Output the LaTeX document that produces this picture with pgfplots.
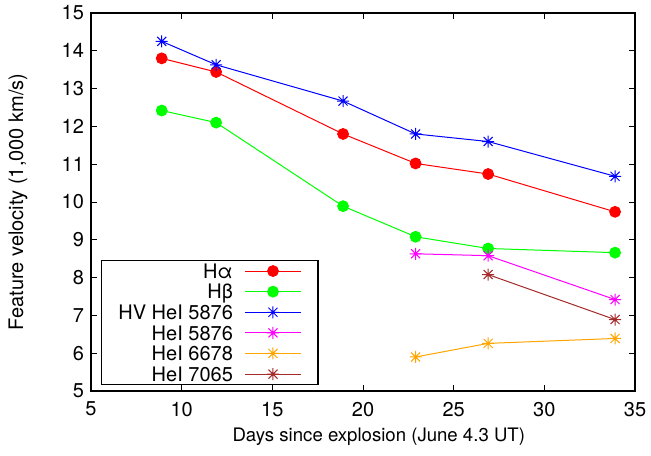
\documentclass[border=0pt]{standalone}
\usepackage{fontspec}
\setmainfont{TeX Gyre Heros}
\usepackage{pgfplots}
\pgfplotsset{compat=1.18}
\definecolor{gporange}{RGB}{255,165,0}
\definecolor{gpbrown}{RGB}{165,42,42}
\definecolor{gpgreen}{RGB}{0,255,0}
\definecolor{gpmagenta}{RGB}{255,0,255}
% gnuplot style point type 3: + and x on top of each other
\pgfdeclareplotmark{gpstar}{%
  \pgfpathmoveto{\pgfqpoint{-\pgfplotmarksize}{0pt}}%
  \pgfpathlineto{\pgfqpoint{\pgfplotmarksize}{0pt}}%
  \pgfpathmoveto{\pgfqpoint{0pt}{-\pgfplotmarksize}}%
  \pgfpathlineto{\pgfqpoint{0pt}{\pgfplotmarksize}}%
  \pgfpathmoveto{\pgfqpoint{-0.75\pgfplotmarksize}{-0.75\pgfplotmarksize}}%
  \pgfpathlineto{\pgfqpoint{0.75\pgfplotmarksize}{0.75\pgfplotmarksize}}%
  \pgfpathmoveto{\pgfqpoint{-0.75\pgfplotmarksize}{0.75\pgfplotmarksize}}%
  \pgfpathlineto{\pgfqpoint{0.75\pgfplotmarksize}{-0.75\pgfplotmarksize}}%
  \pgfusepathqstroke}
\begin{document}
\begin{tikzpicture}[font=\fontsize{10}{12}\selectfont]
\begin{axis}[
    scale only axis,
    width=272pt, height=189pt,
    xmin=5, xmax=35, ymin=5, ymax=15,
    xtick={5,10,...,35}, ytick={5,6,...,15},
    tick align=inside,
    major tick length=3pt,
    tick style={black, line width=0.4pt},
    axis line style={line width=0.6pt},
    /pgf/number format/assume math mode=true,
    xticklabel style={yshift=-2pt},
    xlabel={Days since explosion (June 4.3 UT)},
    ylabel={Feature velocity (1,000 km/s)},
    xlabel style={at={(axis description cs:0.529,-0.121)}, anchor=center,
        font=\fontsize{9.3}{11}\selectfont},
    ylabel style={at={(axis description cs:-0.134,0.5)}, anchor=center},
    legend style={at={(axis description cs:0.018,0.016)}, anchor=south west,
        draw=black, line width=0.6pt, row sep=0pt, column sep=6pt,
        inner xsep=8.5pt, inner ysep=0pt,
        nodes={inner sep=0pt, text height=8.75pt, text depth=1.55pt},
        cells={anchor=east}},
    legend plot pos=right,
    legend image code/.code={\draw[mark repeat=2,mark phase=2]
        plot coordinates {(0cm,0cm)(0.485cm,0cm)(0.97cm,0cm)};},
    every axis plot/.append style={line width=0.5pt},
]
\coordinate (ll) at (rel axis cs:0,0);
\coordinate (ur) at (rel axis cs:1,1);
\addplot[red, mark=*, mark options={mark size=2.7pt, fill=red}] coordinates {
    (8.9,13.80) (11.9,13.44) (18.9,11.80) (22.9,11.02) (26.9,10.74) (33.9,9.74)};
\addlegendentry{Hα}
\addplot[gpgreen, mark=*, mark options={mark size=2.7pt, fill=gpgreen}] coordinates {
    (8.9,12.42) (11.9,12.10) (18.9,9.89) (22.9,9.08) (26.9,8.77) (33.9,8.66)};
\addlegendentry{Hβ}
\addplot[blue, mark=gpstar, mark options={mark size=3pt}] coordinates {
    (8.9,14.25) (11.9,13.63) (18.9,12.67) (22.9,11.80) (26.9,11.60) (33.9,10.68)};
\addlegendentry{HV HeI 5876}
\addplot[gpmagenta, mark=gpstar, mark options={mark size=3pt}] coordinates {
    (22.9,8.63) (26.9,8.58) (33.9,7.42)};
\addlegendentry{HeI 5876}
\addplot[gporange, mark=gpstar, mark options={mark size=3pt}] coordinates {
    (22.9,5.90) (26.9,6.26) (33.9,6.39)};
\addlegendentry{HeI 6678}
\addplot[gpbrown, mark=gpstar, mark options={mark size=3pt}] coordinates {
    (26.9,8.08) (33.9,6.89)};
\addlegendentry{HeI 7065}
\end{axis}
\pgfresetboundingbox
\path[use as bounding box] ([xshift=-45.5pt,yshift=-32pt]ll) rectangle ([xshift=8pt,yshift=6.5pt]ur);
\end{tikzpicture}
\end{document}
